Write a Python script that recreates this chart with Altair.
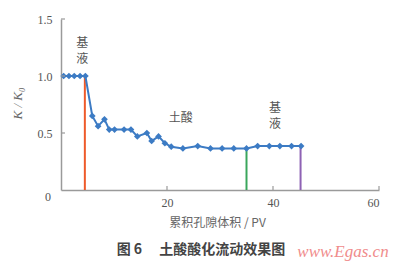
import altair as alt
import pandas as pd

# data
pv = [0.5, 1.5, 2.5, 3.6, 4.6, 5.9, 7.0, 8.2, 9.1, 10.1, 11.9, 13.2, 14.4, 16.2, 17.1,
      18.4, 19.6, 20.8, 23.0, 25.8, 28.2, 30.4, 32.6, 35.0, 37.1, 39.3, 41.3, 43.5, 45.3]
kk0 = [1.0, 1.0, 1.0, 1.0, 1.0, 0.65, 0.56, 0.62, 0.53, 0.53, 0.53, 0.53, 0.47, 0.50, 0.43,
       0.47, 0.41, 0.38, 0.365, 0.385, 0.365, 0.365, 0.365, 0.365, 0.385, 0.385, 0.385, 0.385, 0.385]

switch_x = [4.5, 35.0, 45.2]
switch_top = [1.0, 0.365, 0.385]
switch_color = ["#ee5a2a", "#3aa65c", "#8e62b4"]

label_text = ["基", "液", "土酸", "基", "液"]
label_x = [4.0, 4.0, 22.6, 40.4, 40.4]
label_y = [1.29, 1.15, 0.63, 0.72, 0.575]

x_ticks = [20, 40, 60]
y_ticks = [0.5, 1.0, 1.5]

caption = "图 6\u3000 土酸酸化流动效果图"
watermark = "www.Egas.cn"

W, H = 318, 171
SERIF = "Liberation Serif, DejaVu Serif, serif"

df = pd.DataFrame({"pv": pv, "k": kk0})
sw = pd.DataFrame({"x": switch_x, "top": switch_top, "c": switch_color, "zero": [0] * 3})
lab = pd.DataFrame({"t": label_text, "x": label_x, "y": label_y})
xt = pd.DataFrame({"v": x_ticks})
yt = pd.DataFrame({"v": y_ticks})

xscale = alt.Scale(domain=[0, 60], nice=False)
yscale = alt.Scale(domain=[0, 1.5], nice=False)

axis_common = dict(
    grid=False, tickSize=0, domainColor="#9a9a9a", domainWidth=1.5,
    labelFont=SERIF, labelFontSize=12, labelColor="#555555",
)

base = alt.Chart(df)

line = base.mark_line(color="#3c7bc4", strokeWidth=2).encode(
    x=alt.X("pv:Q", scale=xscale,
            axis=alt.Axis(values=x_ticks, labelPadding=7,
                          title="累积孔隙体积 / PV", titleFont="Noto Sans CJK SC",
                          titleFontWeight="normal", titleFontSize=12, titleColor="#666666",
                          titleX=156, titleY=32, titleBaseline="middle", **axis_common)),
    y=alt.Y("k:Q", scale=yscale,
            axis=alt.Axis(values=y_ticks, format=".1f", labelPadding=9,
                          title="K / K₀", titleFont=SERIF, titleFontStyle="italic",
                          titleFontWeight="normal", titleFontSize=13, titleColor="#666666",
                          titleX=-44, titleY=84, titleBaseline="middle", titleAngle=270,
                          **axis_common)),
)

points = base.mark_point(shape="diamond", filled=True, size=45, color="#3c7bc4", opacity=1).encode(
    x=alt.X("pv:Q", scale=xscale), y=alt.Y("k:Q", scale=yscale)
)

rules = alt.Chart(sw).mark_rule(strokeWidth=2).encode(
    x=alt.X("x:Q", scale=xscale),
    y=alt.Y("zero:Q", scale=yscale),
    y2="top:Q",
    color=alt.Color("c:N", scale=None, legend=None),
)

labels = alt.Chart(lab).mark_text(font="Noto Sans CJK SC", fontSize=12, color="#555555").encode(
    x=alt.X("x:Q", scale=xscale), y=alt.Y("y:Q", scale=yscale), text="t:N"
)

xticks = alt.Chart(xt).mark_rule(color="#9a9a9a", strokeWidth=1.2).encode(
    x=alt.X("v:Q", scale=xscale), y=alt.value(H), y2=alt.value(H - 4)
)
yticks = alt.Chart(yt).mark_rule(color="#9a9a9a", strokeWidth=1.2).encode(
    y=alt.Y("v:Q", scale=yscale), x=alt.value(0), x2=alt.value(4)
)

origin = alt.Chart(pd.DataFrame({"t": ["0"]})).mark_text(
    font=SERIF, fontSize=12, color="#555555").encode(
    x=alt.value(-13), y=alt.value(H + 7), text="t:N")

cap = alt.Chart(pd.DataFrame({"t": [caption]})).mark_text(
    font="Noto Sans CJK SC", fontSize=14, fontWeight="bold", color="#444444").encode(
    x=alt.value(140), y=alt.value(231), text="t:N")

wm = alt.Chart(pd.DataFrame({"t": [watermark]})).mark_text(
    font=SERIF, fontSize=17, fontStyle="italic", color="#f08c8c").encode(
    x=alt.value(282), y=alt.value(233), text="t:N")

chart = alt.layer(rules, line, points, labels, xticks, yticks, origin, cap, wm).properties(
    width=W, height=H,
    autosize=alt.AutoSizeParams(type="none"),
    padding={"left": 61, "top": 19, "right": 21, "bottom": 74},
    background="white",
).configure_view(stroke=None)

chart.save("out.html", embed_options={"renderer": "svg", "actions": False})
